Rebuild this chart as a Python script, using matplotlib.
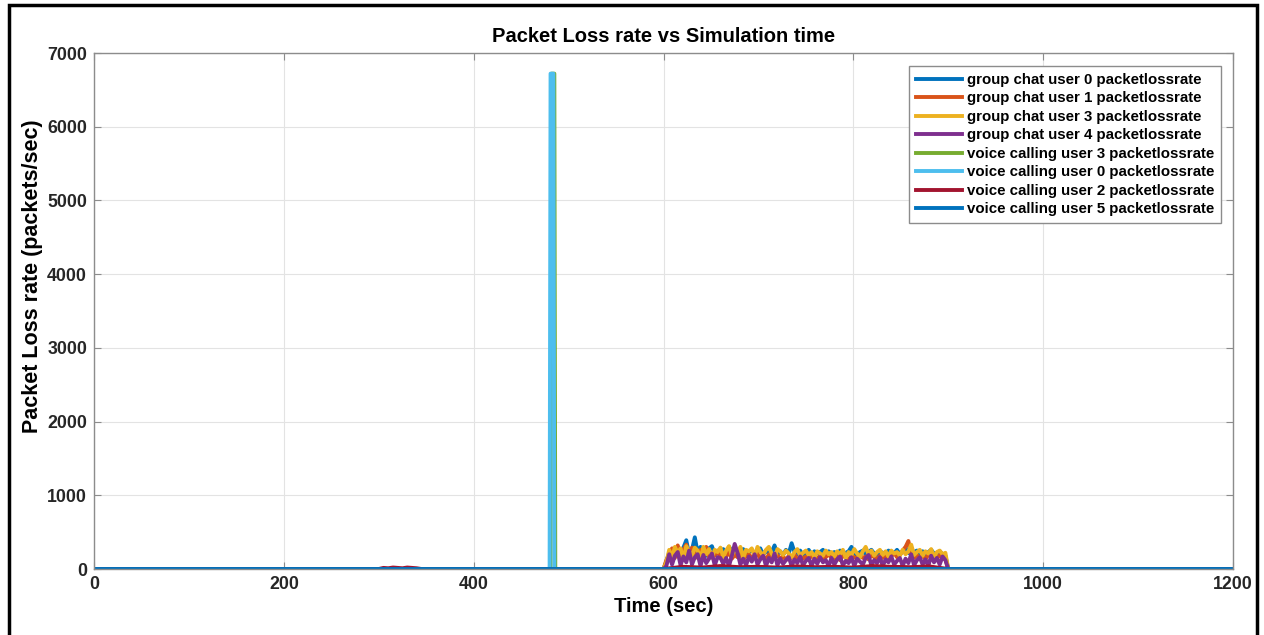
import matplotlib.pyplot as plt
from matplotlib.patches import Rectangle

plt.rcParams['font.family'] = ['Liberation Sans', 'DejaVu Sans']
plt.rcParams['font.weight'] = 'bold'

# time axis of the busy part (3 s steps)
t_noise = list(range(600, 901, 3))

gc0 = [0, 100, 220, 260, 180, 300, 240, 290, 390, 200,
       260, 430, 220, 300, 250, 180, 280, 310, 200, 240,
       220, 270, 190, 300, 250, 210, 240, 200, 270, 180,
       230, 260, 200, 240, 280, 190, 250, 210, 230, 320,
       200, 240, 190, 260, 210, 350, 230, 200, 250, 180,
       220, 260, 190, 240, 210, 230, 260, 200, 240, 210,
       230, 200, 250, 190, 220, 240, 300, 210, 190, 230,
       250, 200, 230, 260, 210, 190, 240, 220, 200, 250,
       230, 210, 260, 200, 240, 290, 220, 200, 230, 250,
       210, 240, 200, 230, 260, 210, 190, 240, 200, 180,
       0]
gc1 = [0, 120, 200, 280, 150, 320, 180, 260, 330, 170,
       290, 200, 150, 260, 190, 300, 160, 220, 180, 250,
       150, 200, 170, 230, 140, 190, 160, 210, 130, 180,
       200, 150, 170, 210, 140, 180, 120, 200, 160, 150,
       190, 140, 170, 120, 180, 150, 200, 130, 160, 140,
       170, 120, 190, 150, 140, 180, 130, 160, 200, 150,
       140, 170, 120, 190, 150, 130, 180, 160, 140, 200,
       150, 170, 130, 190, 160, 140, 180, 150, 200, 130,
       170, 220, 160, 190, 250, 300, 380, 200, 150, 190,
       150, 180, 130, 200, 160, 170, 140, 190, 150, 130,
       0]
gc3 = [0, 90, 260, 150, 300, 220, 280, 130, 310, 240,
       180, 290, 250, 140, 300, 200, 270, 150, 260, 230,
       290, 160, 250, 310, 180, 270, 220, 300, 150, 260,
       240, 280, 170, 300, 230, 190, 260, 300, 210, 150,
       270, 240, 190, 250, 210, 160, 230, 270, 180, 220,
       250, 190, 230, 160, 240, 210, 180, 250, 200, 230,
       170, 240, 200, 260, 150, 230, 190, 270, 210, 160,
       240, 300, 200, 250, 180, 230, 260, 190, 240, 170,
       250, 210, 230, 180, 260, 200, 240, 330, 190, 230,
       260, 180, 240, 210, 270, 160, 230, 250, 200, 220,
       0]
gc4 = [0, 40, 200, 60, 180, 230, 50, 170, 90, 250,
       60, 160, 200, 40, 190, 80, 140, 210, 50, 160,
       150, 70, 150, 40, 180, 340, 220, 60, 140, 50,
       170, 100, 200, 60, 130, 180, 40, 150, 90, 210,
       50, 140, 70, 120, 160, 40, 130, 80, 170, 50,
       110, 150, 40, 140, 70, 160, 90, 120, 40, 150,
       60, 130, 170, 50, 110, 80, 160, 40, 140, 100,
       60, 150, 190, 50, 120, 80, 160, 40, 130, 90,
       170, 60, 110, 150, 40, 140, 80, 200, 50, 120,
       160, 60, 130, 40, 180, 90, 150, 60, 170, 120,
       0]

# voice calling users
vc3_t = [0, 481, 482, 485, 486, 1200]
vc3_v = [0, 0, 6720, 6720, 0, 0]
vc0_t = [0, 480, 481, 484, 485, 1200]
vc0_v = [0, 0, 6720, 6720, 0, 0]
vc2_t = [0, 300, 305, 310, 315, 320, 325, 330, 335, 340, 345,
         600, 620, 640, 660, 680, 700, 720, 740, 760, 780, 800, 820, 840, 860, 880, 900, 1200]
vc2_v = [0, 0, 15, 10, 20, 15, 10, 20, 15, 10, 0,
         0, 30, 20, 40, 25, 30, 20, 35, 25, 30, 20, 40, 30, 25, 35, 0, 0]
vc5_t = [0, 1200]
vc5_v = [0, 0]

labels = ['group chat user 0 packetlossrate', 'group chat user 1 packetlossrate',
          'group chat user 3 packetlossrate', 'group chat user 4 packetlossrate',
          'voice calling user 3 packetlossrate', 'voice calling user 0 packetlossrate',
          'voice calling user 2 packetlossrate', 'voice calling user 5 packetlossrate']
colors = ['#0072BD', '#D95319', '#EDB120', '#7E2F8E', '#77AC30', '#4DBEEE', '#A2142F', '#0072BD']

fig = plt.figure(figsize=(12.64, 6.35), dpi=100)
ax = fig.add_axes([94/1264, 1-569/635, (1233-94)/1264, (569-53)/635])

tg = [0] + t_noise + [1200]
for vals, lab, c in zip([gc0, gc1, gc3, gc4], labels[:4], colors[:4]):
    ax.plot(tg, [0] + vals + [0], color=c, lw=2.8, label=lab)
ax.plot(vc3_t, vc3_v, color=colors[4], lw=2.8, label=labels[4])
ax.plot(vc0_t, vc0_v, color=colors[5], lw=2.8, label=labels[5])
ax.plot(vc2_t, vc2_v, color=colors[6], lw=2.8, label=labels[6])
ax.plot(vc5_t, vc5_v, color=colors[7], lw=2.8, label=labels[7])

ax.set_xlim(0, 1200)
ax.set_ylim(0, 7000)
ax.set_xticks(range(0, 1201, 200))
ax.set_yticks(range(0, 7001, 1000))
ax.grid(True, color='#e3e3e3', lw=0.8)
ax.set_axisbelow(True)
for s in ax.spines.values():
    s.set_color('#8c8c8c')
    s.set_linewidth(1.0)
ax.tick_params(direction='in', length=5, colors='#8c8c8c', labelcolor='#262626',
               labelsize=12.8, top=True, right=True, pad=5)
ax.set_title('Packet Loss rate vs Simulation time', fontsize=14.5, fontweight='bold', pad=8)
ax.set_xlabel('Time (sec)', fontsize=14.5, fontweight='bold', labelpad=3)
ax.set_ylabel('Packet Loss rate (packets/sec)', fontsize=15.5, fontweight='bold',
              va='center', ha='center')
ax.yaxis.set_label_coords(-61/1139, (569-276)/516)

leg = ax.legend(loc='upper right', fontsize=10.8, handlelength=3.1, handletextpad=0.3,
                labelspacing=0.3, borderpad=0.45, borderaxespad=0, fancybox=False,
                framealpha=1, bbox_to_anchor=(1127/1139, 1 - 13/516))
leg.get_frame().set_edgecolor('#8c8c8c')
leg.get_frame().set_linewidth(1.0)

# outer frame of the screenshot
fig.patches.append(Rectangle((9/1264, -0.1), 1248/1264, 1.1 - 5/635, transform=fig.transFigure,
                             fill=False, edgecolor='black', lw=2.5))

fig.savefig('out.png', dpi=100)
